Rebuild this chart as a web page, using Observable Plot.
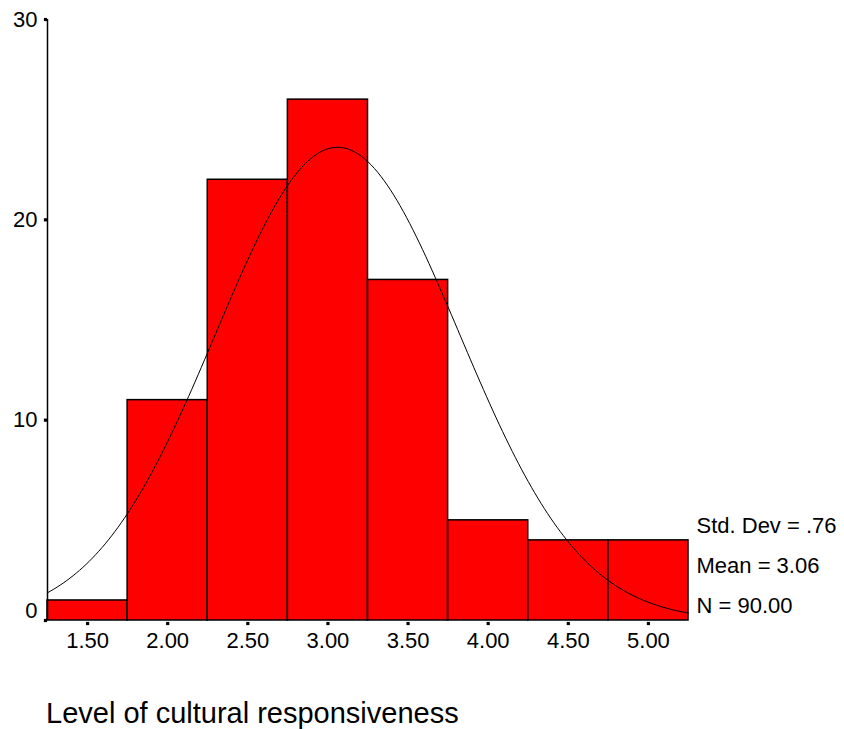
<!DOCTYPE html>
<html>
<head>
<meta charset="utf-8">
<script src="https://cdn.jsdelivr.net/npm/d3@7"></script>
<script src="https://cdn.jsdelivr.net/npm/@observablehq/plot@0.6"></script>
<style>
  body { margin: 0; background: #fff; font-family: "Liberation Sans", Arial, sans-serif; }
  #wrap { position: relative; width: 844px; height: 729px; }
  #title { position: absolute; left: 46px; top: 696px; font-size: 29px; line-height: 34px; color: #000; }
</style>
</head>
<body>
<div id="wrap">
  <div id="chart"></div>
  <div id="title">Level of cultural responsiveness</div>
</div>
<script>
const binCenters = [1.5, 2.0, 2.5, 3.0, 3.5, 4.0, 4.5, 5.0];
const counts = [1, 11, 22, 26, 17, 5, 4, 4];
const binWidth = 0.5;
const xTicks = [1.5, 2.0, 2.5, 3.0, 3.5, 4.0, 4.5, 5.0];
const xTickLabels = ["1.50", "2.00", "2.50", "3.00", "3.50", "4.00", "4.50", "5.00"];
const yTicks = [0, 10, 20, 30];
const statsMean = 3.06;
const statsSd = 0.76;
const statsN = 90;
const statsLines = ["Std. Dev = .76", "Mean = 3.06", "N = 90.00"];

const bins = binCenters.map((c, i) => ({x1: c - binWidth / 2, x2: c + binWidth / 2, count: counts[i]}));
const xMin = binCenters[0] - binWidth / 2;
const xMax = binCenters[binCenters.length - 1] + binWidth / 2;

// Fitted normal curve from the stated mean, SD and N (scaled to bin width)
const curve = d3.range(0, 201).map(i => {
  const x = xMin + (xMax - xMin) * i / 200;
  const z = (x - statsMean) / statsSd;
  return {x, y: statsN * binWidth * Math.exp(-0.5 * z * z) / (statsSd * Math.sqrt(2 * Math.PI))};
});

const chart = Plot.plot({
  width: 844,
  height: 672,
  marginTop: 19,
  marginBottom: 52,
  marginLeft: 47,
  marginRight: 156,
  style: {fontFamily: "'Liberation Sans', Arial, sans-serif", background: "#fff", overflow: "visible"},
  x: {domain: [xMin, xMax], axis: null},
  y: {domain: [0, 30], axis: null},
  marks: [
    Plot.rectY(bins, {x1: "x1", x2: "x2", y: "count", fill: "#ff0000", stroke: "#000", strokeWidth: 1.5, inset: 0}),
    Plot.line(curve, {x: "x", y: "y", stroke: "#000", strokeWidth: 1, curve: "linear"}),
    Plot.ruleX([xMin], {y1: 0, y2: 30, stroke: "#000", strokeWidth: 1.5}),
    Plot.dot(yTicks, {x: () => xMin, y: d => d, dx: -2, symbol: "square", r: 1.8, fill: "#000", stroke: null}),
    Plot.text(yTicks.filter(d => d !== 0), {x: () => xMin, y: d => d, text: d => String(d), dx: -10, textAnchor: "end", fontSize: 22, fill: "#000"}),
    Plot.text(yTicks.filter(d => d === 0), {x: () => xMin, y: d => d, text: d => String(d), dx: -10, dy: -10, textAnchor: "end", fontSize: 22, fill: "#000"}),
    Plot.dot(xTicks, {x: d => d, y: () => 0, dy: 3, symbol: "square", r: 1.8, fill: "#000", stroke: null}),
    Plot.text(xTicks, {x: d => d, y: () => 0, text: (d, i) => xTickLabels[i], dy: 20, fontSize: 22, fill: "#000"}),
    Plot.text([statsLines.join("\n")], {x: () => xMax, frameAnchor: "bottom", text: d => d, dx: 8, dy: -8, textAnchor: "start", lineAnchor: "bottom", lineHeight: 1.8, fontSize: 22, fill: "#000"})
  ]
});
document.getElementById("chart").appendChild(chart);
</script>
</body>
</html>
